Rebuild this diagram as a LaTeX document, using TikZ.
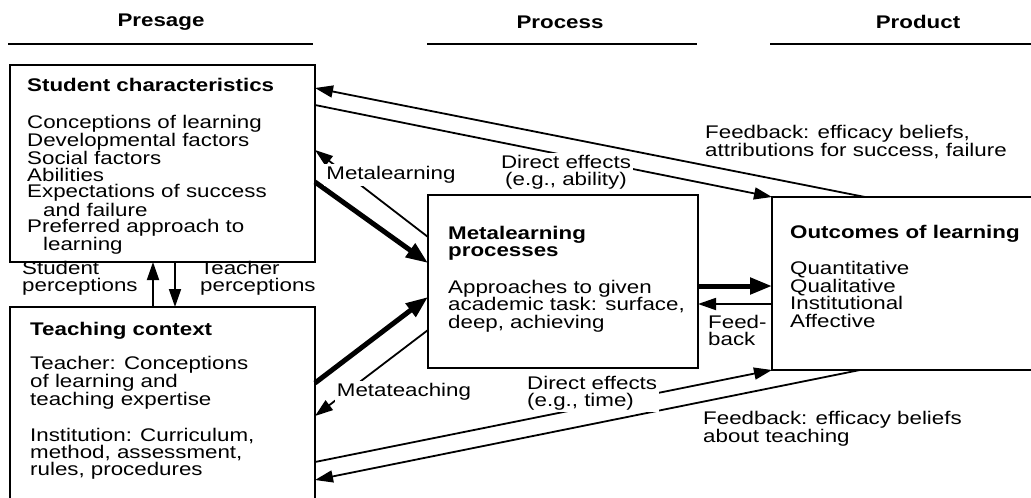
\documentclass[tikz,border=0pt]{standalone}
\usepackage{fontspec}
\setmainfont{Liberation Sans}[FakeStretch=1.22]
\usetikzlibrary{arrows.meta}
\tikzset{
  box/.style={draw, line width=2pt, anchor=north west, inner sep=0pt, outer sep=0pt},
  txt/.style={anchor=north west, align=left, inner sep=0pt},
  lbl/.style={align=left, inner sep=2pt, fill=white},
  head/.style={font=\fontsize{18.3}{17}\selectfont\bfseries},
  link/.style={line width=1.8pt, -{Triangle[length=18pt,width=12pt]}},
  biglink/.style={line width=5pt, -{Triangle[length=22pt,width=16pt]}},
}

\begin{document}
\begin{tikzpicture}[x=1pt, y=-1pt, font=\fontsize{18.3}{17}\selectfont]
\useasboundingbox (0,0) rectangle (1031,498);

% Column headings
\node[head] (presage) at (161,22) {Presage};
\node[head] (process) at (560,22) {Process};
\node[head] (product) at (918,22) {Product};
\draw[line width=2pt] (8,44) -- (313,44);
\draw[line width=2pt] (427,44) -- (697,44);
\draw[line width=2pt] (770,44) -- (1031,44);

% Boxes
\node[box, minimum width=305pt, minimum height=197pt] (stud) at (10,65) {};
\node[box, minimum width=305pt, minimum height=200pt] (teach) at (10,307) {};
\node[box, minimum width=270pt, minimum height=173pt] (meta) at (428,195) {};
\node[box, minimum width=280pt, minimum height=173pt] (outc) at (772,197) {};

% Box texts
\node[txt, font=\fontsize{18.3}{16.8}\selectfont] (studtxt) at (27,78) {\textbf{Student characteristics}\\[20pt]
  Conceptions of learning\\ Developmental factors\\ Social factors\\ Abilities\\
  Expectations of success\\ \hspace*{16pt}and failure\\ Preferred approach to\\ \hspace*{16pt}learning};
\node[txt, font=\fontsize{18.3}{16.8}\selectfont] (teachtxt) at (30,322) {\textbf{Teaching context}\\[16pt]
  Teacher: Conceptions\\ of learning and\\ teaching expertise\\[18pt]
  Institution: Curriculum,\\ method, assessment,\\ rules, procedures};
\node[txt, font=\fontsize{18.3}{17.5}\selectfont] (metatxt) at (448,226) {\textbf{Metalearning}\\ \textbf{processes}\\[19pt]
  Approaches to given\\ academic task: surface,\\ deep, achieving};
\node[txt, font=\fontsize{18.3}{17.8}\selectfont] (outctxt) at (790,225) {\textbf{Outcomes of learning}\\[18pt]
  Quantitative\\ Qualitative\\ Institutional\\ Affective};

% Connectors
\draw[link] ([xshift=93pt]outc.north west) -- ([yshift=-23pt]stud.north east);
\draw[link] ([yshift=-40pt]stud.north east) -- (outc.north west);
\draw[link] ([yshift=-42pt]meta.north west) -- ([yshift=-85pt]stud.north east);
\draw[biglink] ([yshift=-117pt]stud.north east) -- ([yshift=-68pt]meta.north west);
\draw[biglink] ([yshift=-76pt]teach.north east) -- ([yshift=-102pt]meta.north west);
\draw[link] ([yshift=-135pt]meta.north west) -- ([yshift=-109pt]teach.north east);
\draw[link] ([yshift=-155pt]teach.north east) -- (outc.south west);
\draw[link] ([xshift=88pt]outc.south west) -- ([yshift=-173pt]teach.north east);
\draw[biglink] ([yshift=-91pt]meta.north east) -- ([yshift=-89pt]outc.north west);
\draw[link] ([yshift=-107pt]outc.north west) -- ([yshift=-109pt]meta.north east);
\draw[link] ([xshift=143pt]teach.north west) -- ([xshift=143pt]stud.south west);
\draw[link] ([xshift=165pt]stud.south west) -- ([xshift=165pt]teach.north west);

% Connector labels
\node[txt] (stperc) at (22,261) {Student\\ perceptions};
\node[txt] (teperc) at (200,261) {Teacher\\ perceptions};
\node[txt] (fbtop) at (705,125) {Feedback: efficacy beliefs,\\ attributions for success, failure};
\node[txt] (fbbot) at (703,411) {Feedback: efficacy beliefs\\ about teaching};
\node[txt] (fbmid) at (708,315) {Feed-\\ back};
\node[lbl] (mlearn) at (391,175) {Metalearning};
\node[lbl] (mteach) at (404,392) {Metateaching};
\node[lbl, align=center] (dability) at (566,172) {Direct effects\\ (e.g., ability)};
\node[lbl, anchor=north west] (dtime) at (525,374) {Direct effects\\ (e.g., time)};
\end{tikzpicture}
\end{document}
